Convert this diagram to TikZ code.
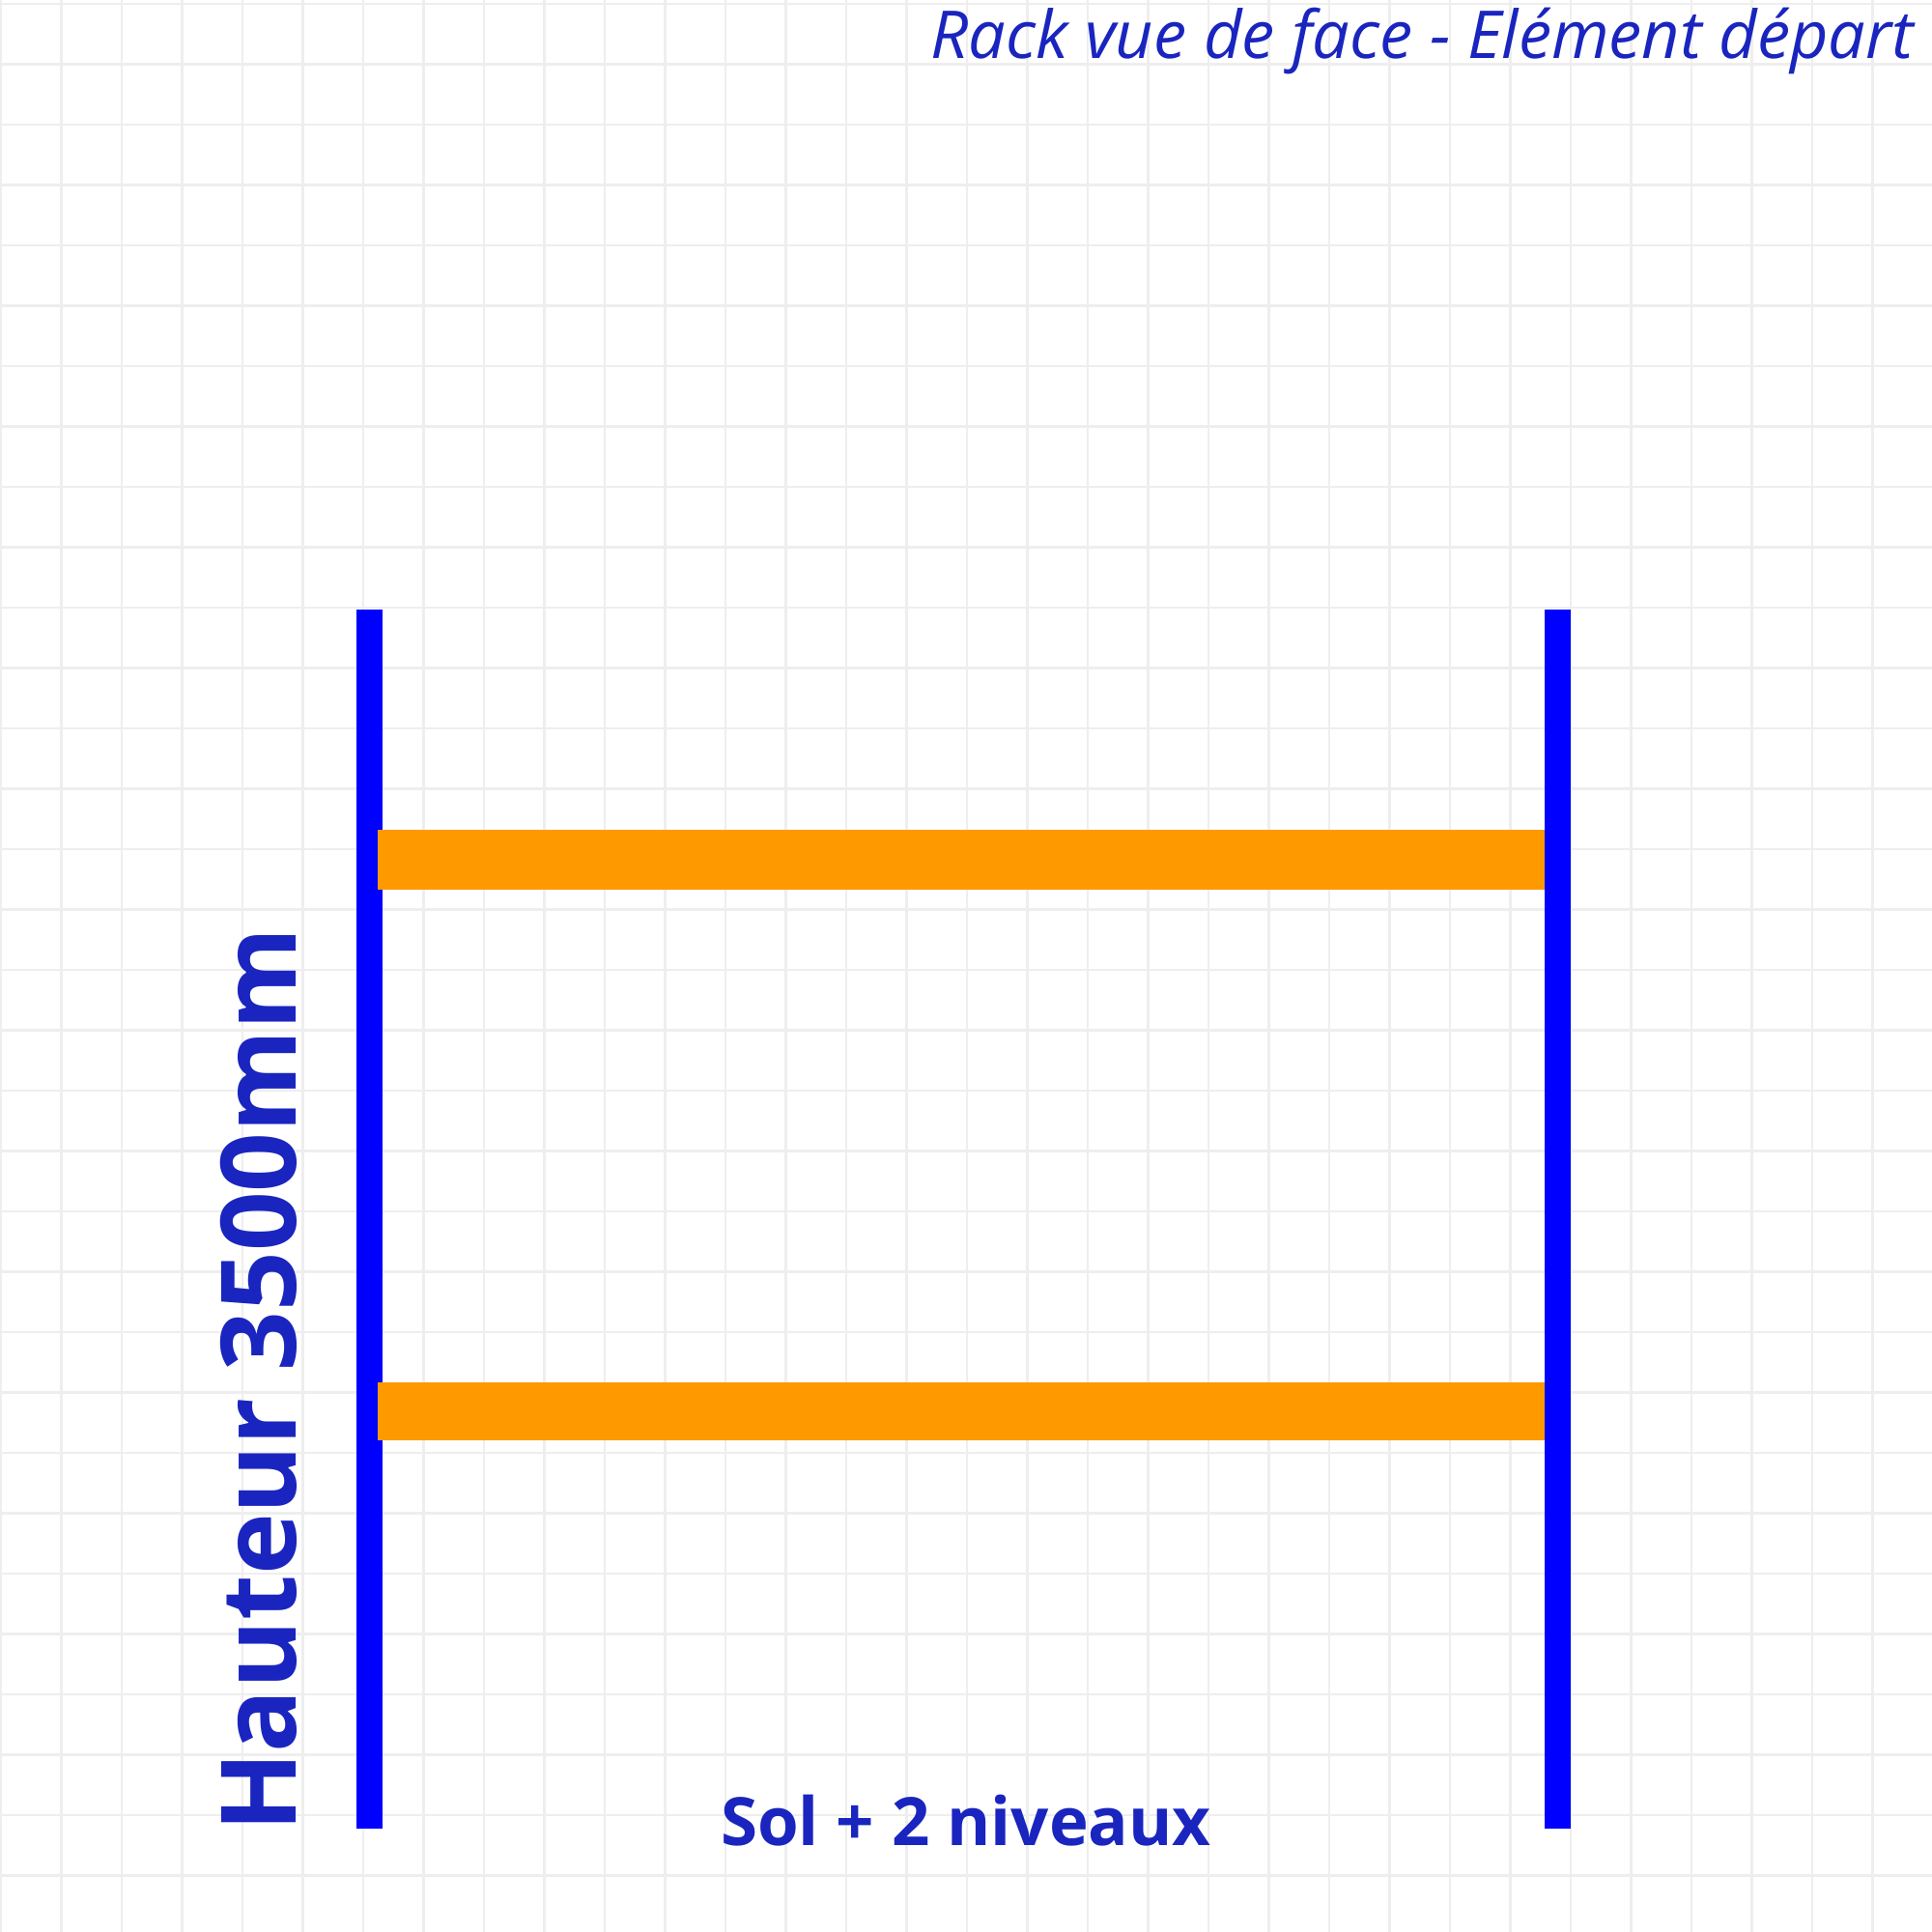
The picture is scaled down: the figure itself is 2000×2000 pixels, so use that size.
\documentclass[tikz,border=0pt]{standalone}
\usepackage{fontspec}
\setmainfont{Open Sans}
\definecolor{gridc}{HTML}{EEEEEE}
\definecolor{postc}{HTML}{0000FF}
\definecolor{beamc}{HTML}{FF9900}
\definecolor{textc}{HTML}{1A25BF}
\tikzset{
  gridline/.style={draw=gridc, line width=1.25pt},
  post/.style={fill=postc, draw=none},
  beam/.style={fill=beamc, draw=none},
  lbl/.style={text=textc, inner sep=0pt, outer sep=0pt}
}
\begin{document}
\begin{tikzpicture}[x=0.5pt, y=-0.5pt]
\fill[white] (0,0) rectangle (2000,2000);
\useasboundingbox (0,0) rectangle (2000,2000);
% grid
\foreach \k in {0,...,32} {
  \draw[gridline] ({1+62.5*\k},0) -- ({1+62.5*\k},2000);
}
\foreach \k in {0,...,31} {
  \draw[gridline] (0,{4+62.5*\k}) -- (2000,{4+62.5*\k});
}
% posts
\fill[post] (369,631) rectangle (396,1893);
\fill[post] (1599,631) rectangle (1626,1893);
% beams
\fill[beam] (391,859) rectangle (1599,921);
\fill[beam] (391,1431) rectangle (1599,1491);
% texts
\node[lbl, anchor=base east, font=\fontsize{34.2pt}{40pt}\selectfont\itshape] (title) at (1981,61) {Rack vue de face - Elément départ};
\node[lbl, anchor=base, font=\fontsize{34.5pt}{40pt}\selectfont\bfseries] (sol) at (1000,1910) {Sol + 2 niveaux};
\node[lbl, anchor=base, rotate=90, font=\fontsize{54pt}{60pt}\selectfont\bfseries] (haut) at (306,1428.5) {Hauteur 3500mm};
\end{tikzpicture}
\end{document}
